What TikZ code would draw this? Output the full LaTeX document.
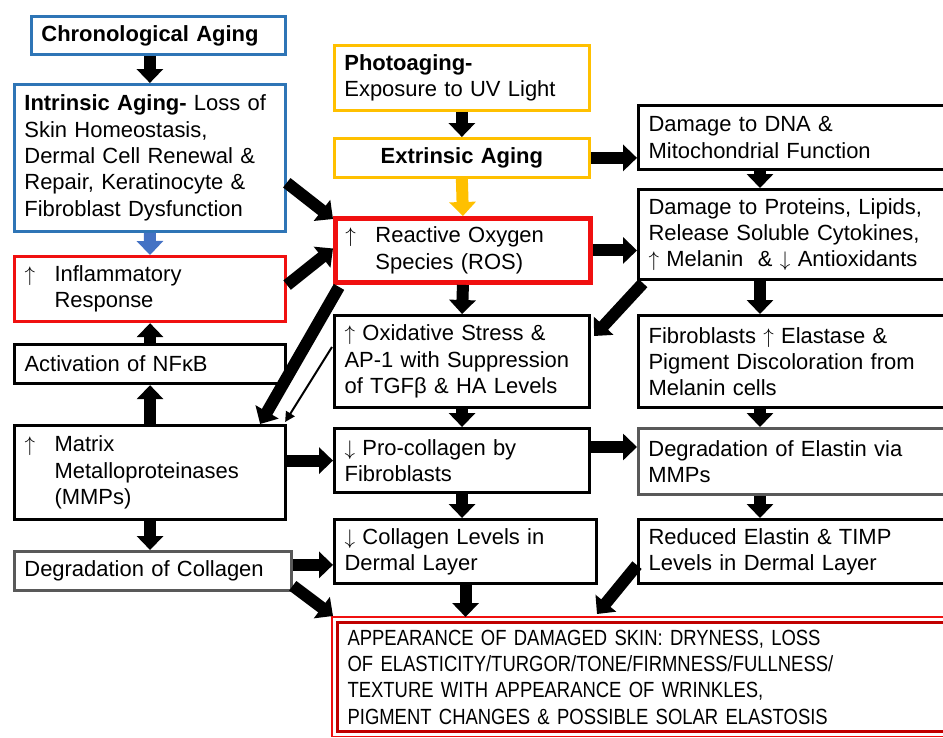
\documentclass[tikz,border=0pt]{standalone}
\usepackage{amsmath}
\usepackage{amssymb}
\usepackage{fontspec}
\setmainfont{Liberation Sans}
\newfontfamily\narrowfont[FakeStretch=0.84]{Liberation Sans}
\usetikzlibrary{calc,arrows.meta}

\definecolor{ageblue}{RGB}{46,117,182}
\definecolor{arblue}{RGB}{68,114,196}
\definecolor{ageyellow}{RGB}{255,192,0}
\definecolor{agered}{RGB}{240,16,16}
\definecolor{apred}{RGB}{192,0,0}
\definecolor{boxgray}{RGB}{89,89,89}

\newcommand{\upar}{\makebox[0.6cm][l]{$\uparrow$}}
\newcommand{\arind}{\hspace*{0.6cm}}

\begin{document}
\begin{tikzpicture}[x=0.02cm,y=-0.02cm,
  box/.style={draw,line width=1.8pt,anchor=north west,align=left,
    inner xsep=0.2cm,inner ysep=0.05cm,font={\fontsize{12.5}{15}\selectfont}},
  bluebox/.style={box,draw=ageblue,line width=1.6pt},
  yellowbox/.style={box,draw=ageyellow,line width=1.6pt},
  redbox/.style={box,draw=agered,line width=1.8pt},
  graybox/.style={box,draw=boxgray,line width=1.6pt},
  fat/.style={line width=0.24cm,-{Triangle[length=0.28cm,width=0.52cm]}},
  slim/.style={line width=0.04cm,-{Triangle[length=0.2cm,width=0.2cm]}}]

\useasboundingbox (0,0) rectangle (943,737);
\clip (0,0) rectangle (943,737);

% left column
\node[bluebox,minimum width=5.08cm,minimum height=0.76cm,text width=4.68cm] (chrono) at (30,15) {\textbf{Chronological Aging}};
\node[bluebox,minimum width=5.42cm,minimum height=2.94cm,text width=5.02cm] (intr) at (13,83) {\textbf{Intrinsic Aging-} Loss of\\Skin Homeostasis,\\Dermal Cell Renewal \&\\Repair, Keratinocyte \&\\Fibroblast Dysfunction};
\node[redbox,minimum width=5.42cm,minimum height=1.3cm,text width=5.02cm] (inflam) at (13,255) {\upar Inflammatory\\\arind Response};
\node[box,minimum width=5.42cm,minimum height=0.78cm,text width=5.02cm] (nfkb) at (13,343) {Activation of NFκB};
\node[box,minimum width=5.42cm,minimum height=1.88cm,text width=5.02cm] (mmp) at (13,424) {\upar Matrix\\\arind Metalloproteinases\\\arind (MMPs)};
\node[graybox,minimum width=5.54cm,minimum height=0.78cm,text width=5.14cm] (degcol) at (13,550) {Degradation of Collagen};

% middle column
\node[yellowbox,minimum width=5.1cm,minimum height=1.3cm,text width=4.7cm] (photo) at (333,44) {\textbf{Photoaging-}\\Exposure to UV Light};
\node[yellowbox,minimum width=5.1cm,minimum height=0.78cm,text width=4.7cm,align=center] (extr) at (333,137) {\textbf{Extrinsic Aging}};
\node[redbox,line width=2.8pt,minimum width=5.1cm,minimum height=1.28cm,text width=4.7cm] (ros) at (333,216) {\upar Reactive Oxygen\\\arind Species (ROS)};
\node[box,minimum width=5.1cm,minimum height=1.84cm,text width=4.7cm] (oxid) at (333,314) {$\uparrow$ Oxidative Stress \&\\AP-1 with Suppression\\of TGFβ \& HA Levels};
\node[box,minimum width=5.1cm,minimum height=1.28cm,text width=4.7cm] (procol) at (333,427) {$\downarrow$ Pro-collagen by\\Fibroblasts};
\node[box,minimum width=5.24cm,minimum height=1.28cm,text width=4.84cm] (colev) at (333,518) {$\downarrow$ Collagen Levels in\\Dermal Layer};
\node[box,draw=apred,line width=1.8pt,minimum width=12.4cm,minimum height=2.18cm,text width=12cm,font={\narrowfont\fontsize{12.5}{15}\selectfont}] (appear) at (336,621) {APPEARANCE OF DAMAGED SKIN: DRYNESS, LOSS\\OF ELASTICITY/TURGOR/TONE/FIRMNESS/FULLNESS/\\TEXTURE WITH APPEARANCE OF WRINKLES,\\PIGMENT CHANGES \& POSSIBLE SOLAR ELASTOSIS};
\draw[agered,line width=0.7pt] ($(appear.north west)+(-4,-4)$) rectangle ($(appear.south east)+(4,3)$);

% right column
\node[box,minimum width=6.22cm,minimum height=1.28cm,text width=5.82cm] (dna) at (637,104) {Damage to DNA \&\\Mitochondrial Function};
\node[box,minimum width=6.22cm,minimum height=1.8cm,text width=5.82cm] (prot) at (637,188) {Damage to Proteins, Lipids,\\Release Soluble Cytokines,\\$\uparrow$ Melanin \ \& $\downarrow$ Antioxidants};
\node[box,minimum width=6.22cm,minimum height=1.84cm,text width=5.82cm] (fibro) at (637,314) {Fibroblasts $\uparrow$ Elastase \&\\Pigment Discoloration from\\Melanin cells};
\node[graybox,minimum width=6.22cm,minimum height=1.32cm,text width=5.82cm] (elast) at (637,427) {Degradation of Elastin via\\MMPs};
\node[box,minimum width=6.22cm,minimum height=1.28cm,text width=5.82cm] (reduced) at (637,518) {Reduced Elastin \& TIMP\\Levels in Dermal Layer};

% vertical arrows
\draw[fat] (chrono.south -| intr.north) -- (intr.north);
\draw[fat,arblue] (intr.south) -- (inflam.north);
\draw[fat] (nfkb.north) -- (inflam.south);
\draw[fat] (mmp.north) -- (nfkb.south);
\draw[fat] (mmp.south) -- (mmp.south |- degcol.north);
\draw[fat] (photo.south) -- (extr.north);
\draw[fat,ageyellow] (extr.south) -- (ros.north);
\draw[fat] (ros.south) -- (oxid.north);
\draw[fat] (oxid.south) -- (procol.north);
\draw[fat] (procol.south) -- (procol.south |- colev.north);
\draw[fat] (colev.south) -- ($(colev.south |- appear.north)+(0,-4)$);
\draw[fat] ($(dna.south west)+(123,0)$) -- ($(prot.north west)+(123,0)$);
\draw[fat] ($(prot.south west)+(123,0)$) -- ($(fibro.north west)+(123,0)$);
\draw[fat] ($(fibro.south west)+(123,0)$) -- ($(elast.north west)+(123,0)$);
\draw[fat] ($(elast.south west)+(123,0)$) -- ($(reduced.north west)+(123,0)$);

% horizontal arrows
\draw[fat] (extr.east) -- (extr.east -| dna.west);
\draw[fat] (ros.east) -- (ros.east -| prot.west);
\draw[fat] (procol.west -| mmp.east) -- (procol.west);
\draw[fat] ($(procol.north east)+(0,20)$) -- ($(elast.north west)+(0,20)$);
\draw[fat] ($(degcol.east)+(0,-6)$) -- ($(degcol.east -| colev.west)+(0,-6)$);

% diagonal arrows
\draw[fat] ($(intr.south east)+(0,-50)$) -- ($(ros.north west)+(0,3)$);
\draw[fat] ($(inflam.east)+(0,-4)$) -- ($(ros.west)+(0,-2)$);
\draw[fat] ($(ros.south west)+(6,2)$) -- ($(mmp.north east)+(-27,0)$);
\draw[slim] ($(oxid.north west)+(-1,33)$) -- ($(mmp.north east)+(-2,-2)$);
\draw[fat] ($(prot.south west)+(6,2)$) -- ($(oxid.north east)+(3,22)$);
\draw[fat] ($(degcol.south east)+(0,-6)$) -- ($(appear.north west)+(-3,-5)$);
\draw[fat] ($(reduced.south west)+(0,-20)$) -- ($(appear.north west)+(261,-7)$);

\end{tikzpicture}
\end{document}
